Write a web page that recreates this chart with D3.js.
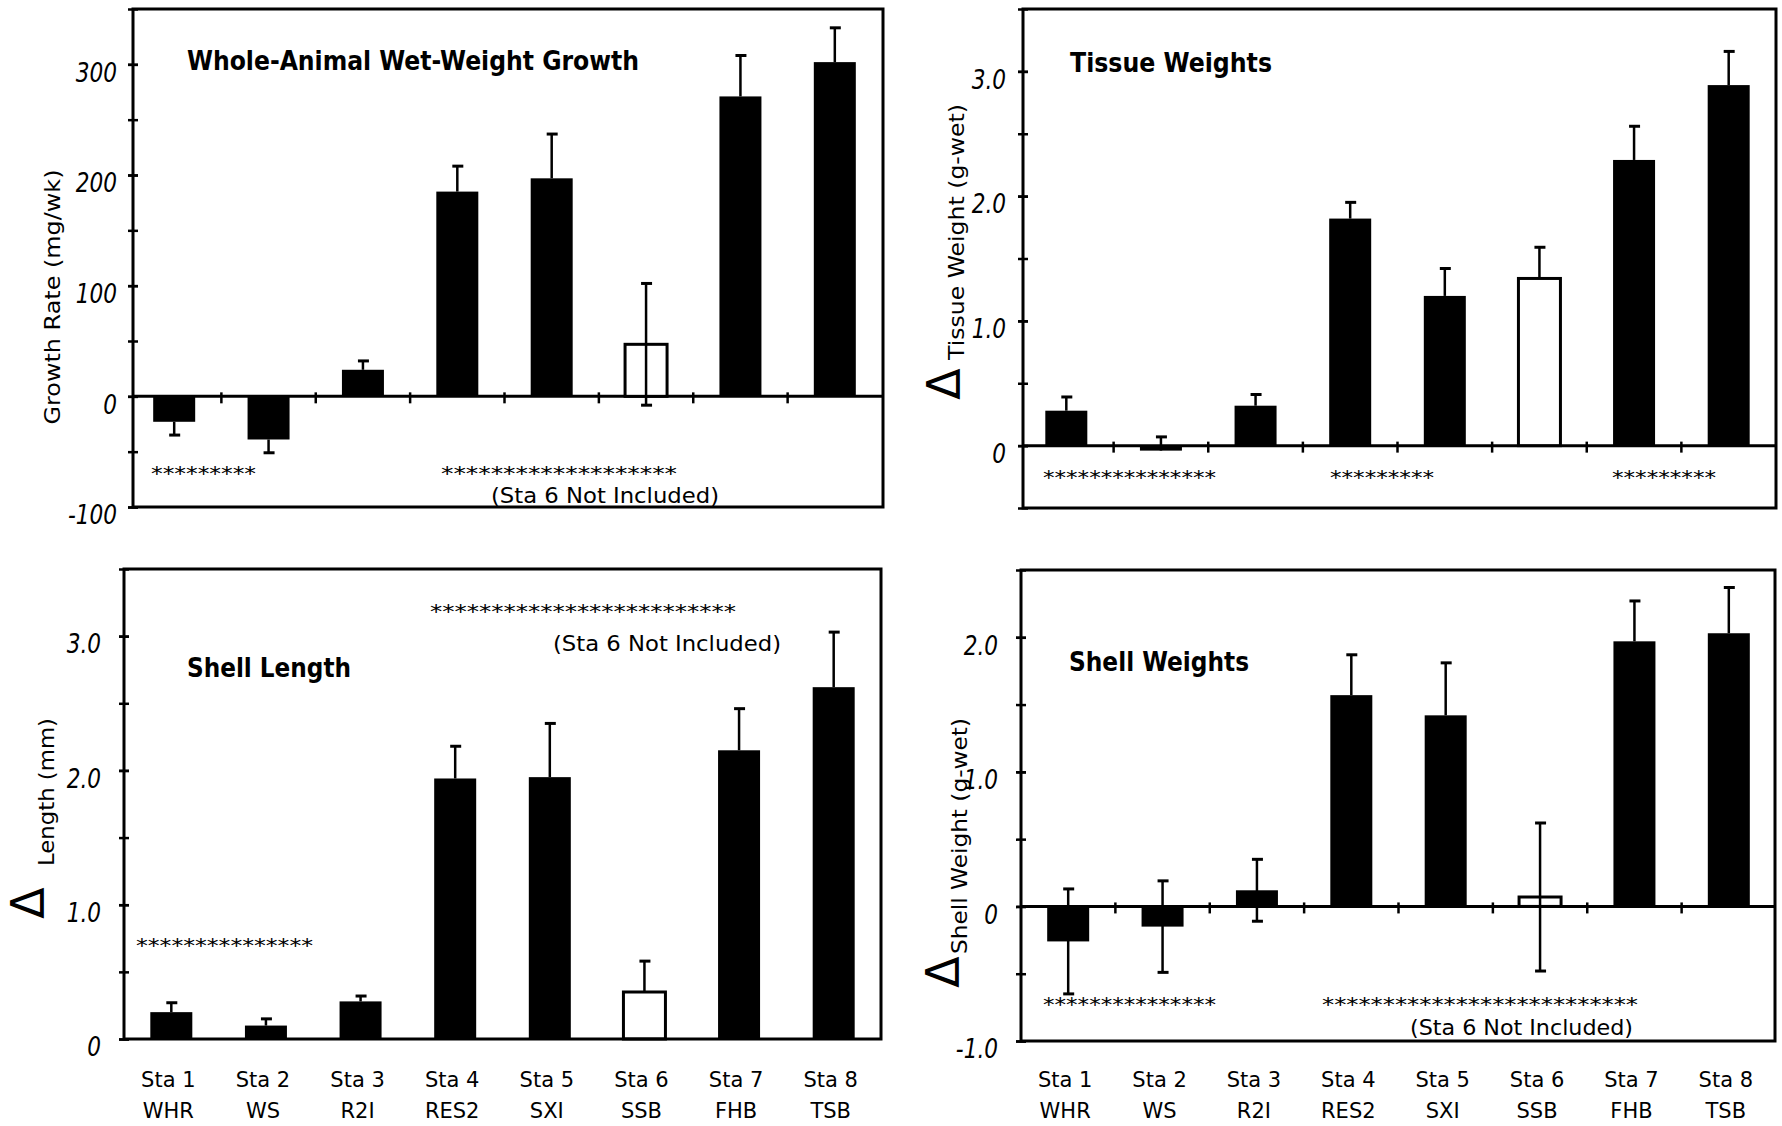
<!DOCTYPE html>
<html>
<head>
<meta charset="utf-8">
<script src="https://cdn.jsdelivr.net/npm/d3@7"></script>
<style>
  html, body { margin: 0; padding: 0; background: #fff; }
  svg { display: block; }
</style>
</head>
<body>
<svg id="fig" width="1782" height="1126"></svg>
<script>
// ---- stations ----
const stations  = ["Sta 1", "Sta 2", "Sta 3", "Sta 4", "Sta 5", "Sta 6", "Sta 7", "Sta 8"];
const siteCodes = ["WHR", "WS", "R2I", "RES2", "SXI", "SSB", "FHB", "TSB"];
const hollow    = [false, false, false, false, false, true, false, false]; // Sta 6 drawn open

// error bar direction: 1 = upper only, -1 = lower only, 0 = both
// ---- whole-animal wet-weight growth (mg/wk) ----
const growthMean   = [-23, -39, 24, 185, 197, 47, 271, 302];
const growthSE     = [12, 12, 8, 23, 40, 55, 37, 31];
const growthErrDir = [-1, -1, 1, 1, 1, 0, 1, 1];
const growthTicks  = [300, 200, 100, 0, -100];
const growthTickLabels = ["300", "200", "100", "0", "-100"];

// ---- tissue weight change (g-wet) ----
const tissueMean   = [0.28, -0.04, 0.32, 1.82, 1.20, 1.34, 2.29, 2.89];
const tissueSE     = [0.11, 0.11, 0.09, 0.13, 0.22, 0.25, 0.27, 0.27];
const tissueErrDir = [1, 1, 1, 1, 1, 1, 1, 1];
const tissueTicks  = [3.0, 2.0, 1.0, 0];
const tissueTickLabels = ["3.0", "2.0", "1.0", "0"];

// ---- shell length change (mm) ----
const lengthMean   = [0.20, 0.10, 0.28, 1.94, 1.95, 0.35, 2.15, 2.62];
const lengthSE     = [0.07, 0.05, 0.04, 0.24, 0.40, 0.23, 0.31, 0.41];
const lengthErrDir = [1, 1, 1, 1, 1, 1, 1, 1];
const lengthTicks  = [3.0, 2.0, 1.0, 0];
const lengthTickLabels = ["3.0", "2.0", "1.0", "0"];

// ---- shell weight change (g-wet) ----
const shellMean    = [-0.26, -0.15, 0.12, 1.57, 1.42, 0.07, 1.97, 2.03];
const shellSE      = [0.39, 0.34, 0.23, 0.30, 0.39, 0.55, 0.30, 0.34];
const shellErrDir  = [0, 0, 0, 1, 1, 0, 1, 1];
const shellTicks   = [2.0, 1.0, 0, -1.0];
const shellTickLabels = ["2.0", "1.0", "0", "-1.0"];

const svg = d3.select("#fig");
const INK = "#000";
const FONT = "'DejaVu Sans', sans-serif";
const FONT_C = "'DejaVu Sans Condensed', 'DejaVu Sans', sans-serif";

function fitText(t, len) {
  t.attr("textLength", len).attr("lengthAdjust", "spacingAndGlyphs");
  return t;
}

function text(txt, x, y, o = {}) {
  const t = svg.append("text")
    .attr("x", x).attr("y", y)
    .attr("font-family", o.family || FONT)
    .attr("font-size", o.size || 22)
    .attr("font-weight", o.weight || "normal")
    .attr("font-style", o.style || "normal")
    .attr("text-anchor", o.anchor || "start")
    .attr("fill", INK)
    .text(txt);
  if (o.len) fitText(t, o.len);
  return t;
}

function vtitle(txt, cx, cy, size, len) {
  const t = svg.append("text")
    .attr("transform", `translate(${cx},${cy}) rotate(-90)`)
    .attr("text-anchor", "middle")
    .attr("font-family", FONT)
    .attr("font-size", size)
    .attr("fill", INK)
    .text(txt);
  if (len) fitText(t, len);
  return t;
}

function panel(c) {
  const g = svg.append("g");
  const y = d3.scaleLinear().domain(c.domain).range([c.bottom, c.top]);
  const x = d3.scaleBand().domain(stations).range(c.band);
  const cx = s => x(s) + x.bandwidth() / 2;
  const bw = 42;
  const y0 = y(0);

  // minor ticks on the value axis
  const minor = d3.range(c.domain[0], c.domain[1] + 1e-9, c.minorStep);
  const minorAx = g.append("g").attr("transform", `translate(${c.left},0)`)
    .call(d3.axisLeft(y).tickValues(minor).tickSize(5).tickFormat(""));
  minorAx.select(".domain").remove();
  minorAx.selectAll(".tick line").attr("x1", 5).attr("stroke", INK).attr("stroke-width", 2.5);

  // labelled ticks
  const ax = g.append("g").attr("transform", `translate(${c.left},0)`)
    .call(d3.axisLeft(y).tickValues(c.ticks)
      .tickFormat((d, i) => c.tickLabels[i])
      .tickSize(5).tickPadding(c.labelGap));
  ax.select(".domain").remove();
  ax.selectAll(".tick line").attr("x1", 5).attr("stroke", INK).attr("stroke-width", 2.5);
  ax.selectAll(".tick text")
    .attr("font-family", FONT).attr("font-weight", 200).attr("font-style", "italic")
    .attr("font-size", 27).attr("fill", INK).attr("dy", "0.62em")
    .each(function () {
      const L = this.getComputedTextLength();
      d3.select(this).attr("textLength", L * 0.8).attr("lengthAdjust", "spacingAndGlyphs");
    });

  // zero line with station dividers
  if (c.domain[0] < 0) {
    g.append("line").attr("x1", c.left).attr("x2", c.right).attr("y1", y0).attr("y2", y0)
      .attr("stroke", INK).attr("stroke-width", 3);
    g.selectAll("line.div").data(stations.slice(1)).join("line")
      .attr("class", "div")
      .attr("x1", d => x(d)).attr("x2", d => x(d))
      .attr("y1", y0 - 4).attr("y2", y0 + 7)
      .attr("stroke", INK).attr("stroke-width", 2.5);
  }

  // bars
  g.selectAll("rect.bar").data(stations).join("rect")
    .attr("class", "bar")
    .attr("x", d => cx(d) - bw / 2)
    .attr("width", bw)
    .attr("y", (d, i) => Math.min(y(c.mean[i]), y0))
    .attr("height", (d, i) => Math.abs(y(c.mean[i]) - y0))
    .attr("fill", (d, i) => hollow[i] ? "#fff" : INK)
    .attr("stroke", INK)
    .attr("stroke-width", (d, i) => hollow[i] ? 3 : 0);

  // error bars
  stations.forEach((s, i) => {
    const v = c.mean[i], e = c.se[i], dir = c.errDir[i];
    const hi = dir >= 0 ? v + e : v;
    const lo = dir <= 0 ? v - e : v;
    const xc = cx(s);
    g.append("line").attr("x1", xc).attr("x2", xc).attr("y1", y(lo)).attr("y2", y(hi))
      .attr("stroke", INK).attr("stroke-width", 2.5);
    [hi, lo].filter(t => t !== v).forEach(t => {
      g.append("line").attr("x1", xc - 5).attr("x2", xc + 6).attr("y1", y(t)).attr("y2", y(t))
        .attr("stroke", INK).attr("stroke-width", 3);
    });
  });

  // frame
  g.append("rect").attr("x", c.left).attr("y", c.top)
    .attr("width", c.right - c.left).attr("height", c.bottom - c.top)
    .attr("fill", "none").attr("stroke", INK).attr("stroke-width", 3);

  // station labels under the lower panels
  if (c.xLabels) {
    stations.forEach((s, i) => {
      text(s, cx(s) - 3, 1087, { size: 21, anchor: "middle" });
      text(siteCodes[i], cx(s) - 3, 1118, { size: 21, anchor: "middle" });
    });
  }
  return { x, y };
}

// ---------- panels ----------
panel({ left: 133, right: 883, top: 9, bottom: 507, band: [127, 882],
        domain: [-100, 350], minorStep: 50, ticks: growthTicks, tickLabels: growthTickLabels,
        labelGap: 11, mean: growthMean, se: growthSE, errDir: growthErrDir });

panel({ left: 1023, right: 1776, top: 9, bottom: 508, band: [1019, 1776],
        domain: [-0.5, 3.5], minorStep: 0.5, ticks: tissueTicks, tickLabels: tissueTickLabels,
        labelGap: 12, mean: tissueMean, se: tissueSE, errDir: tissueErrDir });

panel({ left: 124, right: 881, top: 569, bottom: 1039, band: [124, 881],
        domain: [0, 3.5], minorStep: 0.5, ticks: lengthTicks, tickLabels: lengthTickLabels,
        labelGap: 18, mean: lengthMean, se: lengthSE, errDir: lengthErrDir, xLabels: true });

panel({ left: 1021, right: 1775, top: 570, bottom: 1041, band: [1021, 1776],
        domain: [-1, 2.5], minorStep: 0.5, ticks: shellTicks, tickLabels: shellTickLabels,
        labelGap: 18, mean: shellMean, se: shellSE, errDir: shellErrDir, xLabels: true });

// ---------- panel titles ----------
const titleStyle = { family: FONT_C, size: 27, weight: "bold" };
text("Whole-Animal Wet-Weight Growth", 187, 70, { ...titleStyle, len: 452 });
text("Tissue Weights", 1070, 72, { ...titleStyle, len: 202 });
text("Shell Length", 187, 677, { ...titleStyle, len: 164 });
text("Shell Weights", 1069, 671, { ...titleStyle, len: 180 });

// ---------- axis titles ----------
vtitle("Growth Rate (mg/wk)", 60, 297, 22, 255);
vtitle("Tissue Weight (g-wet)", 964, 232, 22, 256);
vtitle("\u0394", 960, 384, 46);
vtitle("Length (mm)", 54, 792, 22, 148);
vtitle("\u0394", 44, 903, 46);
vtitle("Shell Weight (g-wet)", 967, 836, 22, 236);
vtitle("\u0394", 959, 972, 46);

// ---------- significance groupings ----------
const star = { size: 19 };
const note = { family: FONT_C, size: 22 };
text("*********", 151, 480, { ...star, len: 105 });
text("*******************", 441, 480, { ...star, len: 236 });
text("(Sta 6 Not Included)", 491, 503, { ...note, len: 228 });

text("***************", 1043, 484, { ...star, len: 173 });
text("*********", 1330, 484, { ...star, len: 104 });
text("*********", 1612, 484, { ...star, len: 104 });

text("***************", 136, 952, { ...star, len: 177 });
text("*************************", 430, 618, { ...star, len: 306 });
text("(Sta 6 Not Included)", 553, 651, { ...note, len: 228 });

text("***************", 1043, 1011, { ...star, len: 173 });
text("**************************", 1322, 1011, { ...star, len: 316 });
text("(Sta 6 Not Included)", 1410, 1035, { ...note, len: 223 });
</script>
</body>
</html>
